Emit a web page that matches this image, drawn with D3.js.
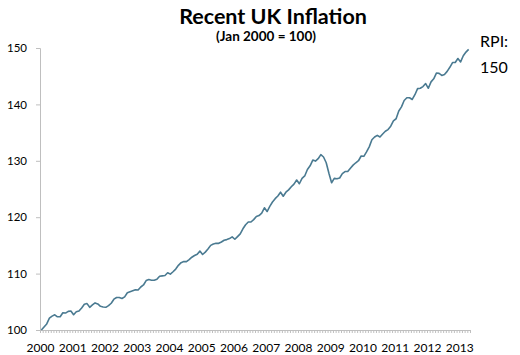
<!DOCTYPE html>
<html>
<head>
<meta charset="utf-8">
<script src="https://cdn.jsdelivr.net/npm/d3@7"></script>
<style>
  body { margin: 0; background: #fff; }
  #chart text { font-family: Lato, "Open Sans", sans-serif; fill: #000; }
</style>
</head>
<body>
<div id="chart"></div>
<script>
// monthly RPI, Jan 2000 .. Apr 2013 (rebased so Jan 2000 = 100)
let years = ["2000","2001","2002","2003","2004","2005","2006","2007","2008","2009","2010","2011","2012","2013"];
let rpi = [
    166.6,167.5,168.4,170.1,170.7,171.1,170.5,170.5,171.7,171.6,172.1,172.2,
    171.1,172.0,172.2,173.1,174.2,174.4,173.3,174.0,174.6,174.3,173.6,173.4,
    173.3,173.8,174.5,175.7,176.2,176.2,175.9,176.4,177.6,177.9,178.2,178.5,
    178.4,179.3,179.9,181.2,181.5,181.3,181.3,181.6,182.5,182.6,182.7,183.5,
    183.1,183.8,184.6,185.7,186.5,186.8,186.8,187.4,188.1,188.6,189.0,189.9,
    188.9,189.6,190.5,191.6,192.0,192.2,192.2,192.6,193.1,193.3,193.6,194.1,
    193.4,194.2,195.0,196.5,197.7,198.5,198.5,199.2,200.1,200.4,201.1,202.7,
    201.6,203.1,204.4,205.4,206.2,207.3,206.1,207.3,208.0,208.9,209.7,210.9,
    209.8,211.4,212.1,214.0,215.1,216.8,216.5,217.2,218.4,217.7,216.0,212.9,
    210.1,211.4,211.3,211.5,212.8,213.4,213.4,214.4,215.3,216.0,216.6,218.0,
    217.9,219.2,220.7,222.8,223.6,224.1,223.6,224.5,225.3,225.8,226.8,228.4,
    229.0,231.3,232.5,234.4,235.2,235.2,234.7,236.1,237.9,238.0,238.5,239.4,
    238.0,239.9,240.8,242.5,242.4,241.8,242.1,243.0,244.2,245.6,245.6,246.8,
    245.8,247.6,248.7,249.5
];
let yTicks = [100, 110, 120, 130, 140, 150];

let index = rpi.map(v => v / rpi[0] * 100);

let width = 520, height = 355;
let plot = {left: 40, right: 470, top: 48, bottom: 330};

let svg = d3.select("#chart").append("svg")
    .attr("width", width)
    .attr("height", height);

// scales
let x = d3.scaleLinear().domain([0, index.length]).range([plot.left, plot.right]);
let y = d3.scaleLinear().domain([100, 150]).range([plot.bottom, plot.top]);

// y axis
let yAxis = svg.append("g")
    .attr("transform", `translate(${plot.left},0)`)
    .call(d3.axisLeft(y).tickValues(yTicks).tickSize(4).tickPadding(9));
yAxis.select(".domain").attr("stroke", "#bfbfbf");
yAxis.selectAll(".tick line").attr("stroke", "#bfbfbf");
yAxis.selectAll(".tick text").attr("font-size", "11.5px");

// x axis: month ticks
let xAxis = svg.append("g")
    .attr("transform", `translate(0,${plot.bottom})`)
    .call(d3.axisBottom(x).tickValues(d3.range(index.length + 1)).tickSize(3).tickFormat(""));
xAxis.select(".domain").attr("stroke", "#bfbfbf");
xAxis.selectAll(".tick line").attr("stroke", "#bfbfbf");

// year labels
let xLabels = svg.append("g")
    .attr("transform", `translate(0,${plot.bottom})`)
    .call(d3.axisBottom(x)
        .tickValues(years.map((d, i) => i * 12))
        .tickFormat((d, i) => years[i])
        .tickSize(0).tickPadding(13));
xLabels.select(".domain").remove();
xLabels.selectAll(".tick text").attr("font-size", "12px");

// line
let line = d3.line()
    .x((d, i) => x(i + 0.5))
    .y(d => y(d));

svg.append("path")
    .datum(index)
    .attr("fill", "none")
    .attr("stroke", "#4a7a91")
    .attr("stroke-width", 1.6)
    .attr("stroke-linejoin", "round")
    .attr("d", line);

// titles
svg.append("text")
    .attr("x", 273)
    .attr("y", 24)
    .attr("text-anchor", "middle")
    .attr("font-size", "21.5px")
    .attr("font-weight", 700)
    .text("Recent UK Inflation");

svg.append("text")
    .attr("x", 266)
    .attr("y", 41)
    .attr("text-anchor", "middle")
    .attr("font-size", "13.5px")
    .attr("font-weight", 700)
    .text("(Jan 2000 = 100)");

// end label
svg.append("text")
    .attr("x", 480)
    .attr("y", 47)
    .attr("font-size", "16px")
    .text("RPI:");

svg.append("text")
    .attr("x", 480)
    .attr("y", 73)
    .attr("font-size", "16px")
    .text("150");
</script>
</body>
</html>
